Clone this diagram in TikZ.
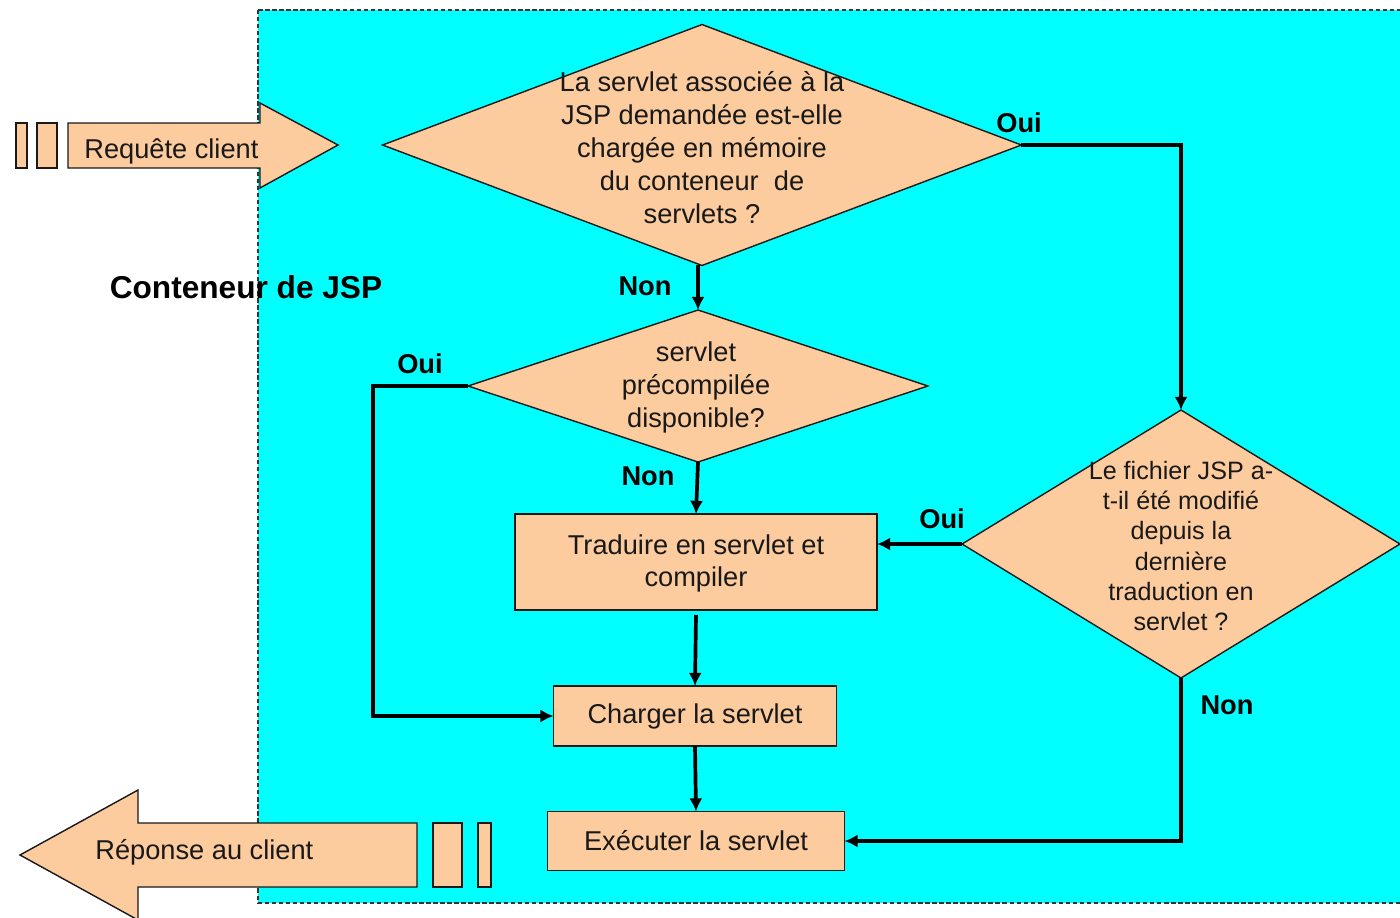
\documentclass[tikz,border=0pt]{standalone}
\usepackage{fontspec}
\setmainfont{Liberation Sans}
\usepackage{xcolor}
\usepackage{tikz}
\usetikzlibrary{arrows.meta}
\usetikzlibrary{positioning,shapes.geometric}
\definecolor{Peach}{RGB}{252,204,158}
\definecolor{Container}{RGB}{0,255,255}
\definecolor{Ink}{RGB}{25,25,25}

\begin{document}
\begin{tikzpicture}[
		x=0.02cm, y=-0.02cm,
		Decision/.style={draw=Ink,fill=Peach,diamond,inner sep=0pt,outer sep=0pt,line width=0.8pt},
		Process/.style={draw=Ink,fill=Peach,rectangle,inner sep=0pt,outer sep=0pt,line width=1pt},
		QText/.style={align=center,text=Ink,inner sep=0pt,font=\fontsize{15.5}{18.8}\selectfont},
		SmallQText/.style={align=center,text=Ink,inner sep=0pt,font=\fontsize{14.3}{17.3}\selectfont},
		Flow/.style={draw=black,line width=2.1pt,-{Latex[length=7.5pt,width=7.5pt]}},
		Answer/.style={text=black,inner sep=0pt,font=\fontsize{15.5}{18}\selectfont\bfseries},
		BigArrow/.style={draw=Ink,fill=Peach,line width=0.8pt}
		]
		\clip (0,0) rectangle (1400,917);
		
		% conteneur
		\fill[white] (0,0) rectangle (1400,917);
		\draw[fill=Container,draw=black!80,line width=0.8pt,dash pattern=on 2.5pt off 1.5pt] (258,10) rectangle (1430,903);
		
		% requete client
		\draw[BigArrow] (16,123) rectangle (27,168);
		\draw[BigArrow] (37,123) rectangle (57,168);
		\draw[BigArrow] (68,123) -- (260,123) -- (260,103) -- (338,145) -- (260,188) -- (260,168) -- (68,168) -- cycle;
		\node[QText,anchor=west] (requete) at (84,151) {Requête client};
		
		% reponse au client
		\draw[BigArrow] (417,823) -- (138,823) -- (138,790) -- (20,855) -- (138,920) -- (138,887) -- (417,887) -- cycle;
		\draw[BigArrow] (433,823) rectangle (462,887);
		\draw[BigArrow] (478,823) rectangle (491,887);
		\node[QText,anchor=west] (reponse) at (95,852) {Réponse au client};
		
		\node[text=black,inner sep=0pt,font=\fontsize{18}{20}\selectfont\bfseries] (titre) at (246,287) {Conteneur de JSP};
		
		% decisions
		\node[Decision,minimum width=12.78cm,minimum height=4.82cm] (d1) at (702,145) {};
		\node[QText] (d1text) at (702,148) {La servlet associée à la\\JSP demandée est-elle\\chargée en mémoire\\du conteneur~ de\\servlets ?};
		
		\node[Decision,minimum width=9.2cm,minimum height=3.04cm] (d2) at (698,386) {};
		\node[QText] (d2text) at (696,387) {servlet\\précompilée\\disponible?};
		
		\node[Decision,minimum width=8.76cm,minimum height=5.36cm] (d3) at (1181,544) {};
		\node[SmallQText] (d3text) at (1181,546) {Le fichier JSP a-\\t-il été modifié\\depuis la\\dernière\\traduction en\\servlet ?};
		
		% traitements
		\node[Process,minimum width=7.24cm,minimum height=1.92cm] (traduire) at (696,562) {};
		\node[QText,font=\fontsize{15.5}{18.2}\selectfont] (traduiretext) at (696,563) {Traduire en servlet et\\compiler};
		\node[Process,minimum width=5.66cm,minimum height=1.2cm,QText] (charger) at (695,716) {Charger la servlet};
		\node[Process,minimum width=5.94cm,minimum height=1.18cm,QText] (executer) at (696,841) {Exécuter la servlet};
		
		% connecteurs
		\draw[Flow] (d2.north |- d1.south) -- (d2.north);
		\draw[Flow] (d1.east) -| (d3.north);
		\draw[Flow] (d2.west) -- ++(-95,0) |- (charger.west);
		\draw[Flow] (d2.south) -- (traduire.north);
		\draw[Flow] (d3.west) -- (d3.west -| traduire.east);
		\draw[Flow] ([yshift=-0.1cm]traduire.south) -- (charger.north);
		\draw[Flow] (charger.south) -- (executer.north);
		\draw[Flow] (d3.south) |- (executer.east);
		
		% reponses
		\node[Answer] (non1) at (645,286) {Non};
		\node[Answer] (oui1) at (1019,123) {Oui};
		\node[Answer] (oui2) at (420,364) {Oui};
		\node[Answer] (non2) at (648,476) {Non};
		\node[Answer] (oui3) at (942,519) {Oui};
		\node[Answer] (non3) at (1227,705) {Non};
		
\end{tikzpicture}
\end{document}
